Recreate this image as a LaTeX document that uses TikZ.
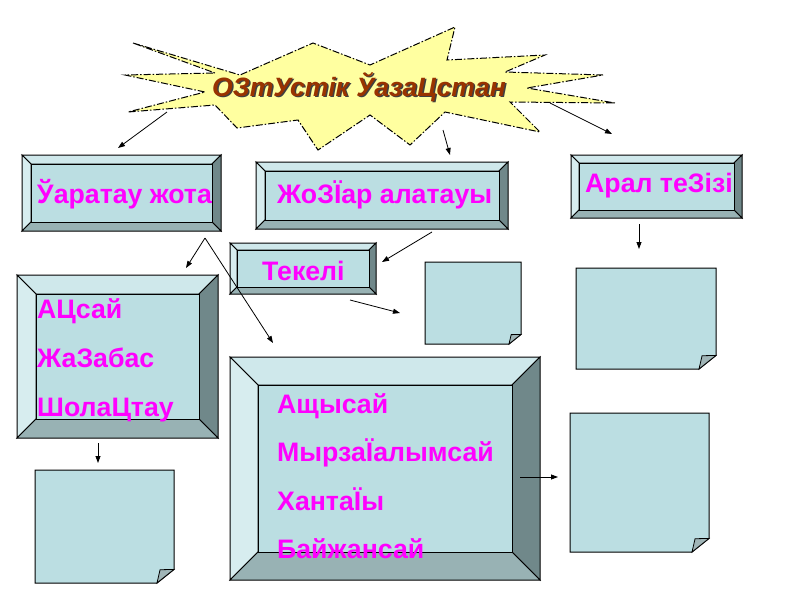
\documentclass[tikz,border=0pt]{standalone}
\usepackage{fontspec}
\setmainfont{Liberation Sans}
\usetikzlibrary{arrows.meta}

\definecolor{faceIn}{RGB}{187,222,226}
\definecolor{faceTop}{RGB}{207,232,235}
\definecolor{faceLeft}{RGB}{215,237,239}
\definecolor{faceRight}{RGB}{112,136,138}
\definecolor{faceBot}{RGB}{152,178,180}
\definecolor{flapgrey}{RGB}{160,181,183}
\definecolor{starfill}{RGB}{255,255,160}
\definecolor{titlered}{RGB}{153,51,0}
\definecolor{pinktext}{RGB}{255,0,255}

\tikzset{
  txt/.style={font=\fontsize{26.7}{30}\selectfont\bfseries, text=pinktext, inner sep=0, anchor=base west},
  titletxt/.style={font=\fontsize{26.5}{30}\selectfont\bfseries\itshape, inner sep=0, anchor=base west},
  conn/.style={-{Triangle[length=7pt,width=5pt]}, line width=0.8pt},
  edge/.style={draw=black, line width=1pt}
}

% bevelled box: name, x1, y1, x2, y2, bevel
\newcommand{\bevelbox}[6]{%
  \filldraw[fill=faceTop, edge] (#2,#3) -- (#4,#3) -- (#4-#6,#3+#6) -- (#2+#6,#3+#6) -- cycle;
  \filldraw[fill=faceLeft, edge] (#2,#3) -- (#2+#6,#3+#6) -- (#2+#6,#5-#6) -- (#2,#5) -- cycle;
  \filldraw[fill=faceRight, edge] (#4,#3) -- (#4,#5) -- (#4-#6,#5-#6) -- (#4-#6,#3+#6) -- cycle;
  \filldraw[fill=faceBot, edge] (#2,#5) -- (#4,#5) -- (#4-#6,#5-#6) -- (#2+#6,#5-#6) -- cycle;
  \node[fill=faceIn, edge, inner sep=0, minimum width={(#4-#2-2*#6)*1pt},
    minimum height={(#5-#3-2*#6)*1pt}] (#1) at ({(#2+#4)/2},{(#3+#5)/2}) {};
}

% note with folded corner: name, x1, y1, x2, y2, fold
\newcommand{\foldnote}[6]{%
  \filldraw[fill=faceIn, edge] (#2,#3) -- (#4,#3) -- (#4,#5-0.8*#6) -- (#4-#6,#5) -- (#2,#5) -- cycle;
  \filldraw[fill=flapgrey, edge, line width=0.8pt] (#4-#6,#5)
    .. controls (#4-0.9*#6,#5-0.4*#6) .. (#4-0.82*#6,#5-0.78*#6) -- (#4,#5-0.8*#6) -- cycle;
  \node[inner sep=0, minimum width={(#4-#2)*1pt}, minimum height={(#5-#3)*1pt}]
    (#1) at ({(#2+#4)/2},{(#3+#5)/2}) {};
}

\begin{document}
\begin{tikzpicture}[x=1pt, y=-1pt]
\useasboundingbox[fill=white] (0,0) rectangle (800,600);

% star
\filldraw[fill=starfill, draw=black, line width=1pt, dash pattern=on 7pt off 2pt on 1.5pt off 2pt]
  (133,43) -- (240,75) -- (313,43) -- (370,65) -- (455,27) -- (447,60) -- (545,55)
  -- (505,72) -- (603,75) -- (527,88) -- (615,103) -- (510,102) -- (540,132)
  -- (445,112) -- (410,145) -- (370,115) -- (318,150) -- (298,120) -- (237,128)
  -- (215,105) -- (128,112) -- (205,92) -- (125,75) -- (215,73) -- cycle;
\node[titletxt, text=black!75] (titleshadow) at (213.5,97.5) {ОЗтУстік ЎазаЦстан};
\node[titletxt, text=titlered] (title) at (212,96) {ОЗтУстік ЎазаЦстан};

% boxes
\bevelbox{karatau}{22}{155}{221}{231}{9}
\bevelbox{zhongar}{256}{162}{508}{229}{9}
\bevelbox{aral}{571}{155}{742}{218}{8}
\bevelbox{tekeli}{230}{243}{376}{294}{7}
\bevelbox{leftbox}{17}{275}{218}{438}{19}
\bevelbox{bottombox}{230}{357}{540}{580}{28}

% empty notes
\foldnote{noteA}{425}{262}{521}{344}{12}
\foldnote{noteB}{576}{268}{716}{369}{17}
\foldnote{noteC}{35}{470}{174}{583}{17}
\foldnote{noteD}{570}{413}{709}{552}{17}

% texts
\node[txt] (karatauT) at (37,203) {Ўаратау жота};
\node[txt] (zhongarT) at (277,203) {ЖоЗЇар алатауы};
\node[txt] (aralT) at (585,192) {Арал теЗізі};
\node[txt] (tekeliT) at (262,280) {Текелі};
\foreach \w [count=\i] in {АЦсай, ЖаЗабас, ШолаЦтау}
  \node[txt] (left\i) at (37,{318+(\i-1)*49}) {\w};
\foreach \w [count=\i] in {Ащысай, МырзаЇалымсай, ХантаЇы, Байжансай}
  \node[txt] (bottom\i) at (277,{413+(\i-1)*48.5}) {\w};

% arrows
\coordinate (s1) at (167,112);
\coordinate (e1) at (118,148);
\coordinate (s2) at (443,130);
\coordinate (e2) at (450,155);
\coordinate (s3) at (550,103);
\coordinate (e3) at (612,134);
\coordinate (s4) at (639,224);
\coordinate (e4) at (639,249);
\coordinate (s5) at (205,238);
\coordinate (e5) at (186,268);
\coordinate (e6) at (273,343);
\coordinate (s7) at (432,232);
\coordinate (e7) at (382,262);
\coordinate (s8) at (350,300);
\coordinate (e8) at (400,313);
\coordinate (s9) at (98,443);
\coordinate (e9) at (98,463);
\coordinate (s10) at (520,477);
\coordinate (e10) at (558,477);
\draw[conn] (s1) -- (e1);
\draw[conn] (s2) -- (e2);
\draw[conn] (s3) -- (e3);
\draw[conn] (s4) -- (e4);
\draw[conn] (s5) -- (e5);
\draw[conn] (s5) -- (e6);
\draw[conn] (s7) -- (e7);
\draw[conn] (s8) -- (e8);
\draw[conn] (s9) -- (e9);
\draw[conn] (s10) -- (e10);
\end{tikzpicture}
\end{document}
